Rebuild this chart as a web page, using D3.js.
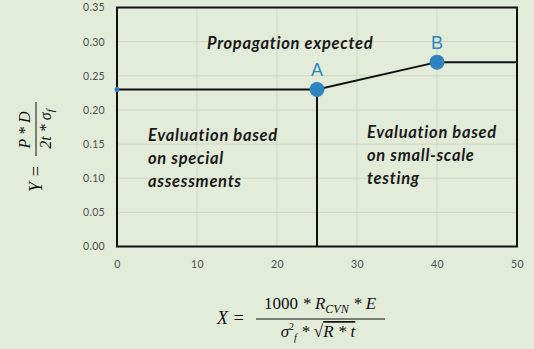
<!DOCTYPE html>
<html>
<head>
<meta charset="utf-8">
<script src="https://cdn.jsdelivr.net/npm/d3@7"></script>
<style>
  html, body { margin: 0; padding: 0; background: #e3ebd9; }
  svg { display: block; }
</style>
</head>
<body>
<div id="chart"></div>
<script>
// Assessment diagram: boundary between regions, with transition points A and B
const xTicks = [0, 10, 20, 30, 40, 50];
const yTicks = [0, 0.05, 0.10, 0.15, 0.20, 0.25, 0.30, 0.35];
const boundaryX = [0, 25, 40, 50];
const boundaryY = [0.23, 0.23, 0.27, 0.27];
const splitX = 25;
const pointNames = ["A", "B"];
const pointX = [25, 40];
const pointY = [0.23, 0.27];

const W = 534, H = 349;
const plotL = 117, plotR = 517, plotT = 7.5, plotB = 246.5;

const svg = d3.select("#chart").append("svg").attr("width", W).attr("height", H);
svg.append("rect").attr("width", W).attr("height", H).attr("fill", "#e3ebd9");

const x = d3.scaleLinear().domain([0, 50]).range([plotL, plotR]);
const y = d3.scaleLinear().domain([0, 0.35]).range([plotB, plotT]);

// grid
svg.append("g").selectAll("line").data(yTicks.slice(1, -1)).join("line")
  .attr("x1", plotL).attr("x2", plotR)
  .attr("y1", d => y(d)).attr("y2", d => y(d))
  .attr("stroke", "#d0d9c4").attr("stroke-width", 1);
svg.append("g").selectAll("line").data(xTicks.slice(1, -1)).join("line")
  .attr("y1", plotT).attr("y2", plotB)
  .attr("x1", d => x(d)).attr("x2", d => x(d))
  .attr("stroke", "#d0d9c4").attr("stroke-width", 1);

// axes (labels only)
const yAxis = svg.append("g").attr("transform", `translate(${plotL},0)`)
  .call(d3.axisLeft(y).tickValues(yTicks).tickFormat(d3.format(".2f")).tickSize(0).tickPadding(12));
const xAxis = svg.append("g").attr("transform", `translate(0,${plotB})`)
  .call(d3.axisBottom(x).tickValues(xTicks).tickSize(0).tickPadding(14));
[xAxis, yAxis].forEach(g => {
  g.select(".domain").remove();
  g.selectAll("text").attr("font-family", "Lato, 'Open Sans', sans-serif")
    .attr("font-size", 10.5).attr("letter-spacing", 0.3).attr("fill", "#505050");
});

// frame
svg.append("rect").attr("x", plotL).attr("y", plotT)
  .attr("width", plotR - plotL).attr("height", plotB - plotT)
  .attr("fill", "none").attr("stroke", "#111").attr("stroke-width", 2);

// boundary
const line = d3.line().x((d, i) => x(boundaryX[i])).y((d, i) => y(boundaryY[i]));
svg.append("path").datum(boundaryX).attr("d", line)
  .attr("fill", "none").attr("stroke", "#111").attr("stroke-width", 2);
svg.append("line").attr("x1", x(splitX)).attr("x2", x(splitX))
  .attr("y1", y(pointY[0])).attr("y2", y(0))
  .attr("stroke", "#111").attr("stroke-width", 2);

// small marker at the left edge
svg.append("circle").attr("cx", x(boundaryX[0])).attr("cy", y(boundaryY[0])).attr("r", 2.5)
  .attr("fill", "#3a74c4");

// points
svg.selectAll("circle.pt").data(pointNames).join("circle").attr("class", "pt")
  .attr("cx", (d, i) => x(pointX[i])).attr("cy", (d, i) => y(pointY[i])).attr("r", 7.5)
  .attr("fill", "#2e84c0");
svg.selectAll("text.pt").data(pointNames).join("text").attr("class", "pt")
  .attr("x", (d, i) => x(pointX[i])).attr("y", (d, i) => y(pointY[i]) - 13)
  .attr("text-anchor", "middle")
  .attr("font-family", "'Liberation Sans', Arial, sans-serif").attr("font-size", 18)
  .attr("fill", "#2e86c1").text(d => d);

// region labels
const lab = (lines, lx, ly, dy) => {
  const t = svg.append("text").attr("font-family", "Lato, 'Open Sans', sans-serif")
    .attr("font-size", 16.5).attr("letter-spacing", 0.7)
    .attr("font-weight", "bold").attr("font-style", "italic").attr("fill", "#1a1a1a");
  lines.forEach((s, i) => t.append("tspan").attr("x", lx).attr("y", ly + i * dy).text(s));
};
lab(["Propagation expected"], 207, 49, 0);
lab(["Evaluation based", "on special", "assessments"], 148, 141, 23);
lab(["Evaluation based", "on small-scale", "testing"], 367, 138, 23);

// x axis formula
const fx = svg.append("g").attr("font-family", "'Liberation Serif', serif").attr("font-style", "italic").attr("fill", "#111");
fx.append("text").attr("x", 217).attr("y", 324).attr("font-size", 18).text("X =");
const num = fx.append("text").attr("x", 320).attr("y", 309).attr("text-anchor", "middle").attr("font-size", 17);
num.append("tspan").attr("font-style", "normal").text("1000 ");
num.append("tspan").text("* R");
num.append("tspan").attr("font-size", 12).attr("dy", 4).text("CVN");
num.append("tspan").attr("dy", -4).text(" * E");
fx.append("line").attr("x1", 256).attr("x2", 385).attr("y1", 319).attr("y2", 319).attr("stroke", "#111").attr("stroke-width", 1);
const den = fx.append("text").attr("x", 318).attr("y", 337).attr("text-anchor", "middle").attr("font-size", 17);
den.append("tspan").text("σ");
den.append("tspan").attr("font-size", 10).attr("dy", -7).attr("font-style", "normal").text("2");
den.append("tspan").attr("font-size", 10).attr("dy", 11).text("f");
den.append("tspan").attr("dy", -4).text(" * ");
den.append("tspan").attr("font-style", "normal").text("√");
den.append("tspan").attr("text-decoration", "overline").text("R * t");

// y axis formula (rotated)
const fy = svg.append("g").attr("transform", "translate(36,140) rotate(-90)")
  .attr("font-family", "'Liberation Serif', serif").attr("font-style", "italic").attr("fill", "#111");
fy.append("text").attr("x", -52).attr("y", 6).attr("font-size", 18).text("Y =");
fy.append("line").attr("x1", -16).attr("x2", 38).attr("y1", 0).attr("y2", 0).attr("stroke", "#111").attr("stroke-width", 1);
fy.append("text").attr("x", 10).attr("y", -6).attr("text-anchor", "middle").attr("font-size", 16).text("P * D");
const fd = fy.append("text").attr("x", 11).attr("y", 15).attr("text-anchor", "middle").attr("font-size", 16);
fd.append("tspan").text("2t * σ");
fd.append("tspan").attr("font-size", 11).attr("dy", 3).text("f");
</script>
</body>
</html>
